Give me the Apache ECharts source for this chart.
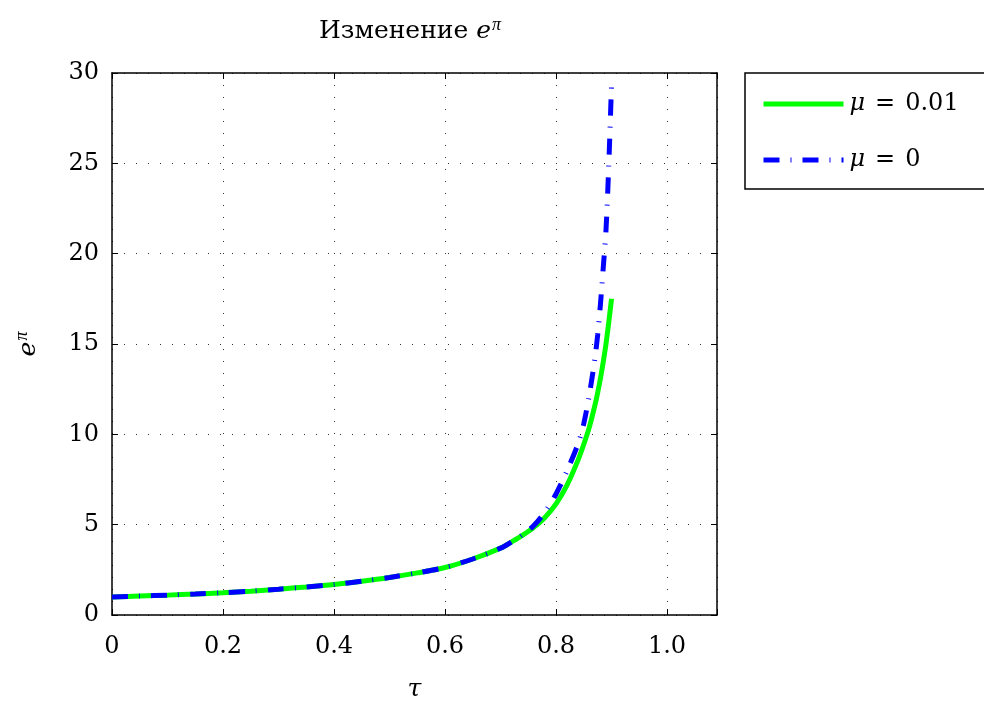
<!DOCTYPE html>
<html>
<head>
<meta charset="utf-8">
<script src="https://cdn.jsdelivr.net/npm/echarts@6/dist/echarts.min.js"></script>
<style>
  html, body { margin: 0; padding: 0; background: #fff; }
  #chart { width: 984px; height: 707px; }
</style>
</head>
<body>
<div id="chart"></div>
<script>
  // значения
  var tau = [0, 0.05, 0.1, 0.15, 0.2, 0.25, 0.3, 0.35, 0.4, 0.45, 0.5, 0.55, 0.6, 0.65, 0.7,
    0.72, 0.74, 0.76, 0.78, 0.8, 0.82, 0.84, 0.85, 0.86, 0.87, 0.875, 0.88, 0.885, 0.89, 0.895, 0.9]
  var mu001 = [1.00, 1.05, 1.10, 1.16, 1.23, 1.32, 1.43, 1.55, 1.69, 1.87, 2.08, 2.33, 2.63, 3.1, 3.7,
    4.05, 4.42, 4.85, 5.4, 6.15, 7.2, 8.6, 9.45, 10.4, 11.6, 12.3, 13.1, 14.0, 15.0, 16.2, 17.5]
  var mu0 = [1.00, 1.05, 1.10, 1.16, 1.23, 1.32, 1.43, 1.55, 1.69, 1.87, 2.08, 2.33, 2.63, 3.1, 3.7,
    4.05, 4.45, 4.95, 5.7, 6.7, 8.0, 9.5, 10.6, 12.2, 14.2, 15.5, 17.2, 19.2, 21.3, 24.9, 29.4]
  var xTicks = [0, 0.2, 0.4, 0.6, 0.8, 1.0]
  var yTicks = [0, 5, 10, 15, 20, 25, 30]
  var names = ['μ = 0.01', 'μ = 0']

  function pairs(xs, ys) {
    return xs.map(function (x, i) { return [x, ys[i]] })
  }

  var font = 'DejaVu Serif, Liberation Serif, serif'
  var piFont = 'Liberation Serif, serif'
  var chart = echarts.init(document.getElementById('chart'))

  var axisCommon = {
    axisLine: { onZero: false, lineStyle: { color: '#000', width: 1.5 } },
    axisTick: { inside: true, length: 6, lineStyle: { color: '#000', width: 1 } }
  }

  chart.setOption({
    animation: false,
    backgroundColor: '#fff',
    title: {
      text: 'Изменение {i|e}{s|π}',
      left: 314,
      top: 11,
      textStyle: {
        fontFamily: font, fontSize: 25, fontWeight: 'normal', color: '#000',
        rich: {
          i: { fontFamily: font, fontSize: 25, fontStyle: 'italic', color: '#000' },
          s: { fontFamily: piFont, fontSize: 18, fontStyle: 'italic', color: '#000',
            verticalAlign: 'bottom', padding: [0, 0, 13, 1] }
        }
      }
    },
    legend: {
      orient: 'vertical',
      left: 745,
      top: 73,
      padding: [19, 120, 17, 16],
      itemGap: 32,
      itemWidth: 80,
      itemHeight: 1,
      borderColor: '#000',
      borderWidth: 1.5,
      borderRadius: 0,
      data: names,
      lineStyle: { width: 5 },
      formatter: function (n) { return '{i|μ}{e|=}{t|' + n.split('= ')[1] + '}' },
      textStyle: {
        fontFamily: font, fontSize: 24, color: '#000', padding: [0, 0, 0, 1],
        rich: {
          i: { fontFamily: font, fontSize: 24, fontStyle: 'italic', color: '#000' },
          e: { fontFamily: font, fontSize: 24, color: '#000', padding: [0, 10, 0, 10] },
          t: { fontFamily: font, fontSize: 24, color: '#000' }
        }
      }
    },
    grid: { left: 112, top: 73, right: 267, bottom: 92 },
    xAxis: [
      Object.assign({
        type: 'value', min: 0, max: 1.09, interval: 0.2,
        name: 'τ', nameLocation: 'middle', nameGap: 62,
        nameTextStyle: { fontFamily: font, fontSize: 25, fontStyle: 'italic', color: '#000' },
        axisLabel: {
          margin: 20, fontFamily: font, fontSize: 24, color: '#000',
          formatter: function (v) {
            var t = xTicks.filter(function (k) { return Math.abs(k - v) < 1e-6 })
            if (!t.length) return ''
            return t[0] === 0 ? '0' : t[0].toFixed(1)
          }
        },
        splitLine: { show: true, lineStyle: { color: '#333', width: 1, type: [1, 11] } }
      }, axisCommon),
      Object.assign({
        type: 'value', position: 'top', min: 0, max: 1.09, interval: 0.2,
        axisLabel: { show: false }, splitLine: { show: false }
      }, axisCommon)
    ],
    yAxis: [
      Object.assign({
        type: 'value', min: 0, max: 30, interval: 5,
        name: '{i|e}{s|π}', nameLocation: 'middle', nameGap: 68, nameRotate: 90,
        nameTextStyle: {
          rich: {
            i: { fontFamily: font, fontSize: 25, fontStyle: 'italic', color: '#000' },
            s: { fontFamily: piFont, fontSize: 18, fontStyle: 'italic', color: '#000',
              verticalAlign: 'bottom', padding: [0, 0, 13, 1] }
          }
        },
        axisLabel: {
          margin: 13, fontFamily: font, fontSize: 24, color: '#000',
          formatter: function (v) { return yTicks.indexOf(v) >= 0 ? String(v) : '' }
        },
        splitLine: { show: true, lineStyle: { color: '#333', width: 1, type: [1, 11] } }
      }, axisCommon),
      Object.assign({
        type: 'value', position: 'right', min: 0, max: 30, interval: 5,
        axisLabel: { show: false }, splitLine: { show: false }
      }, axisCommon)
    ],
    series: [
      {
        name: names[0],
        type: 'line',
        symbol: 'none',
        smooth: 0.3,
        data: pairs(tau, mu001),
        lineStyle: { color: '#00ff00', width: 5 },
        itemStyle: { color: '#00ff00' }
      },
      {
        name: names[1],
        type: 'line',
        symbol: 'none',
        smooth: 0.3,
        data: pairs(tau, mu0),
        lineStyle: { color: '#0000ff', width: 5, type: [16, 11, 1, 11], cap: 'butt' },
        itemStyle: { color: '#0000ff' }
      }
    ]
  })
</script>
</body>
</html>
